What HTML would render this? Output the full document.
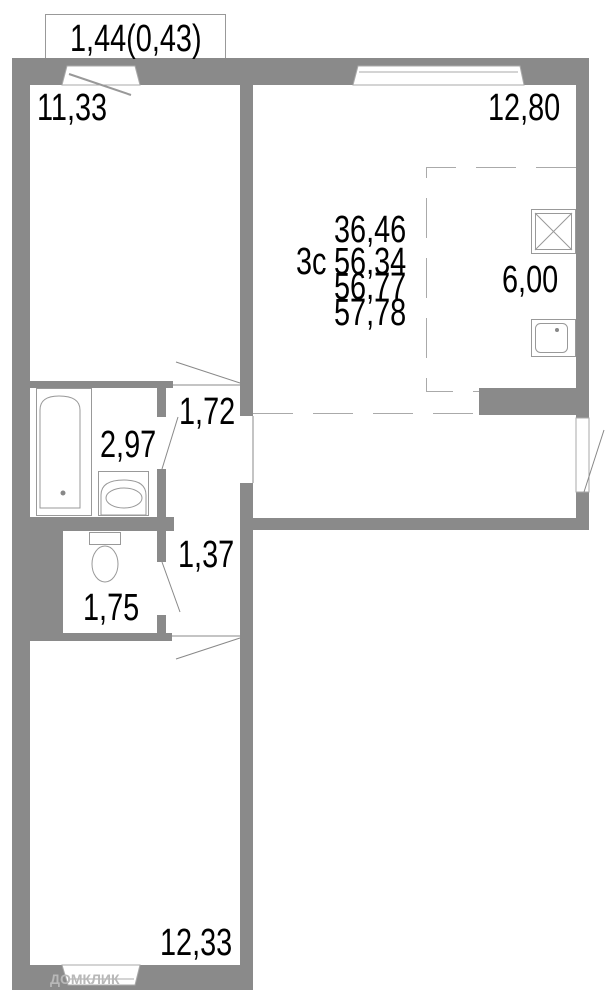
<!DOCTYPE html>
<html><head><style>
html,body{margin:0;padding:0;background:#fff;}
svg{display:block;}
text{font-family:"Liberation Sans",sans-serif;font-size:38px;fill:#000;}
</style></head><body>
<svg width="611" height="1001" viewBox="0 0 611 1001" xmlns="http://www.w3.org/2000/svg">
<rect x="45.5" y="14.5" width="180" height="44" fill="none" stroke="#999" stroke-width="1"/>
<g fill="#8a8a8a">
<rect x="12" y="58" width="18" height="932"/>
<rect x="12" y="58" width="576" height="27"/>
<rect x="240" y="58" width="13" height="358"/>
<rect x="240" y="483" width="13" height="507"/>
<rect x="576" y="58" width="13" height="360"/>
<rect x="576" y="492" width="13" height="38"/>
<rect x="240" y="518" width="349" height="12"/>
<rect x="479" y="388" width="97" height="27"/>
<rect x="30" y="381" width="143" height="7"/>
<rect x="157" y="388" width="9" height="29"/>
<rect x="157" y="469" width="9" height="49"/>
<rect x="30" y="517" width="144" height="14"/>
<rect x="30" y="531" width="33" height="102"/>
<rect x="157" y="531" width="9" height="31"/>
<rect x="157" y="615" width="9" height="18"/>
<rect x="30" y="633" width="142" height="8"/>
<rect x="12" y="965" width="241" height="25"/>
</g>
<g fill="#fff" stroke="#aaa" stroke-width="1">
<polygon points="62,85 67,66 135,66 140,85"/>
<polygon points="353,85 358,66 520,66 524,85"/>
<polygon points="62,965 68,985 135,985 140,965"/>
<rect x="576" y="418" width="13" height="74"/>
</g>
<line x1="69" y1="74" x2="131" y2="95" stroke="#999" stroke-width="2"/>
<line x1="359" y1="72" x2="518" y2="72" stroke="#aaa"/>
<line x1="68" y1="979" x2="134" y2="979" stroke="#aaa"/>
<g stroke="#888" stroke-width="1" fill="none">
<line x1="176" y1="362" x2="240" y2="383"/>
<line x1="173" y1="385" x2="240" y2="385"/>
<line x1="178" y1="417" x2="162" y2="469"/>
<line x1="162" y1="562" x2="180" y2="612"/>
<line x1="172" y1="636" x2="240" y2="636"/>
<line x1="176" y1="659" x2="240" y2="638"/>
<line x1="253" y1="416" x2="253" y2="483"/>
<line x1="604" y1="430" x2="584" y2="492"/>
</g>
<g stroke="#aaa" stroke-width="1" fill="none" stroke-dasharray="40,20">
<path d="M576,167.5 H426.5 V391.5 H479"/>
<line x1="253" y1="413.5" x2="479" y2="413.5"/>
</g>
<g stroke="#999" fill="none" stroke-width="1">
<rect x="531.5" y="209.5" width="44" height="44"/>
<rect x="535.5" y="213.5" width="36" height="36"/>
<line x1="535" y1="213" x2="572" y2="250"/><line x1="572" y1="213" x2="535" y2="250"/>
<rect x="531.5" y="319.5" width="44" height="37"/>
<rect x="535.5" y="323.5" width="32" height="29" rx="5"/>
<rect x="36.5" y="388.5" width="55" height="127"/>
<path d="M40,508 V410 Q40,396 59,396 Q80,396 80,410 V508 Z"/>
<rect x="98.5" y="471.5" width="50" height="44"/>
<path d="M101,515 V495 Q101,480 124,480 Q146,480 146,495 V515 Z"/>
<ellipse cx="124" cy="498" rx="18" ry="10"/>
<rect x="89.5" y="532.5" width="31" height="12"/>
<ellipse cx="105" cy="564" rx="13" ry="18"/>
</g>
<circle cx="63" cy="493" r="2.5" fill="#888"/>
<circle cx="557" cy="330" r="2" fill="#888"/>
<g>
<text x="70" y="51" transform="translate(70,0) scale(0.76,1) translate(-70,0)">1,44(0,43)</text>
<text x="37" y="120" transform="translate(37,0) scale(0.76,1) translate(-37,0)">11,33</text>
<text x="488" y="120" transform="translate(488,0) scale(0.76,1) translate(-488,0)">12,80</text>
<text x="334" y="242" transform="translate(334,0) scale(0.76,1) translate(-334,0)">36,46</text>
<text x="296" y="274" transform="translate(296,0) scale(0.76,1) translate(-296,0)">3c</text>
<text x="334" y="274" transform="translate(334,0) scale(0.76,1) translate(-334,0)">56,34</text>
<text x="334" y="299" transform="translate(334,0) scale(0.76,1) translate(-334,0)">56,77</text>
<text x="334" y="325" transform="translate(334,0) scale(0.76,1) translate(-334,0)">57,78</text>
<text x="502" y="292" transform="translate(502,0) scale(0.76,1) translate(-502,0)">6,00</text>
<text x="179" y="424" transform="translate(179,0) scale(0.76,1) translate(-179,0)">1,72</text>
<text x="100" y="457" transform="translate(100,0) scale(0.76,1) translate(-100,0)">2,97</text>
<text x="178" y="567" transform="translate(178,0) scale(0.76,1) translate(-178,0)">1,37</text>
<text x="83" y="620" transform="translate(83,0) scale(0.76,1) translate(-83,0)">1,75</text>
<text x="160" y="955" transform="translate(160,0) scale(0.76,1) translate(-160,0)">12,33</text>
</g>
<text x="50" y="984" style="font-size:14px;fill:#b8b8b8;font-weight:bold">ДОМКЛИК</text>
</svg>
</body></html>
